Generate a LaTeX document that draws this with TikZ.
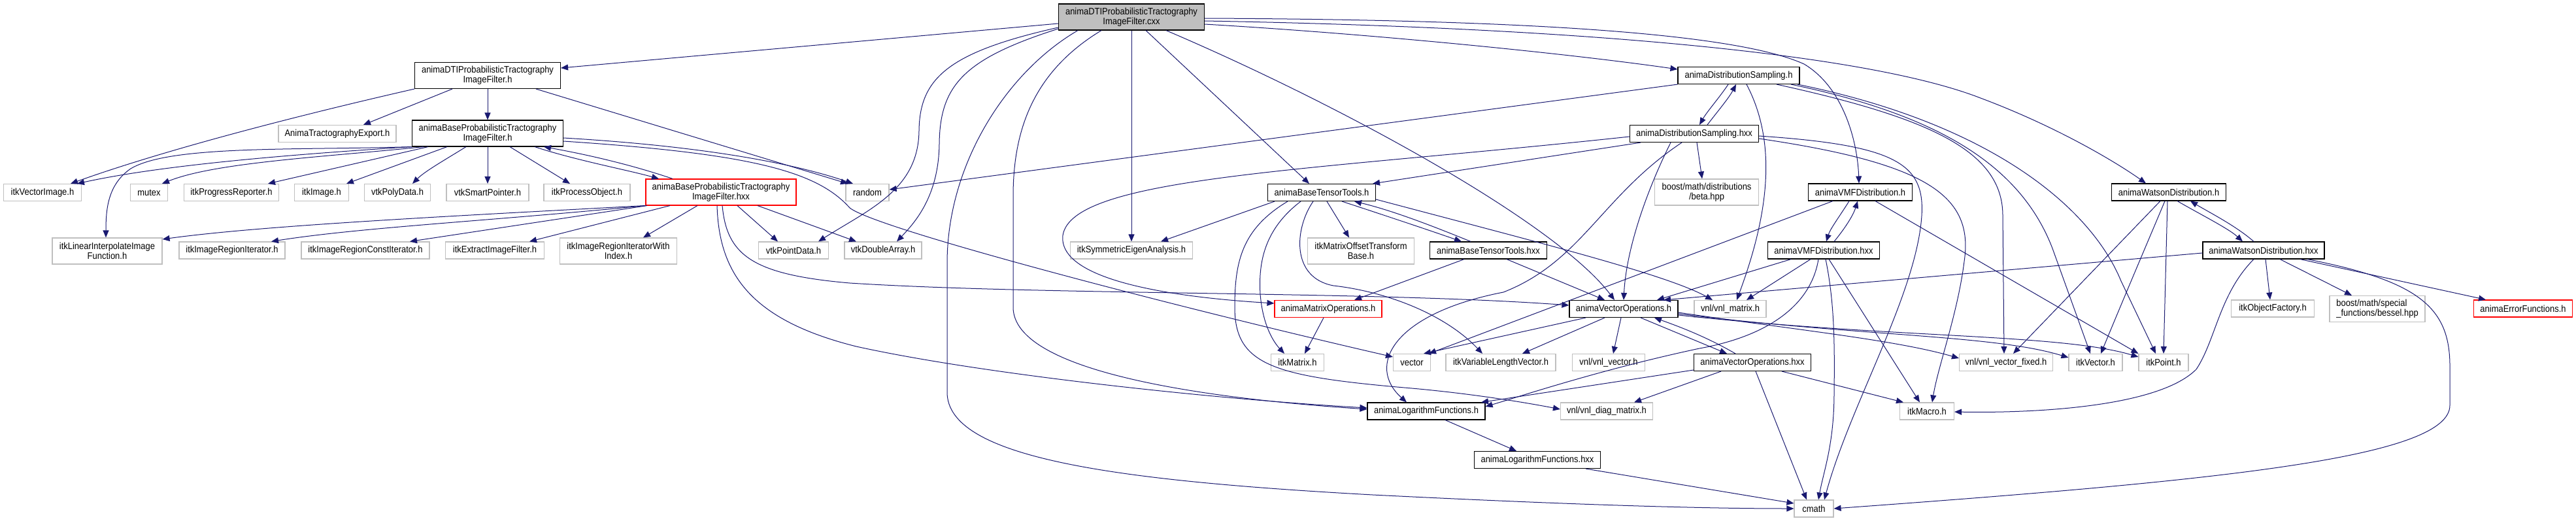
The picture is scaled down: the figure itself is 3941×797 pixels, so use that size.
\documentclass[tikz,border=0pt]{standalone}
\usepackage{fontspec}
\setmainfont{Liberation Sans}[FakeStretch=0.9]
\usetikzlibrary{arrows.meta}
\definecolor{edgec}{HTML}{191970}
\definecolor{greyb}{HTML}{BFBFBF}
\begin{document}
\begin{tikzpicture}[x=1pt,y=-1pt,
  box/.style={rectangle, draw=black, line width=1.1pt, fill=white, inner sep=0pt, align=center,
    font=\fontsize{14.4}{15}\selectfont, minimum height=26pt},
  ext/.style={box, draw=greyb},
  trunc/.style={box, draw=red},
  rootbox/.style={box, fill=greyb},
  two/.style={minimum height=40pt},
  e/.style={draw=edgec, line width=1pt, -{Triangle[length=11pt,width=9pt]}},
]
\useasboundingbox (0,0) rectangle (3941,797);
% nodes
\node[rootbox, two, minimum width=223pt] (root) at (1731,26) {animaDTIProbabilisticTractography\\ImageFilter.cxx};
\node[box, two, minimum width=223pt] (dtih) at (746,115.5) {animaDTIProbabilisticTractography\\ImageFilter.h};
\node[ext, minimum width=180pt] (export) at (516,204.5) {AnimaTractographyExport.h};
\node[box, two, minimum width=231pt] (bpth) at (746,204) {animaBaseProbabilisticTractography\\ImageFilter.h};
\node[ext, minimum width=119pt] (vecimg) at (65,294.5) {itkVectorImage.h};
\node[ext, minimum width=57pt] (mutex) at (228,294.5) {mutex};
\node[ext, minimum width=145pt] (progrep) at (354,294.5) {itkProgressReporter.h};
\node[ext, minimum width=83pt] (itkimage) at (492,294.5) {itkImage.h};
\node[ext, minimum width=101pt] (polydata) at (608,294.5) {vtkPolyData.h};
\node[ext, minimum width=126pt] (smartptr) at (746,294.5) {vtkSmartPointer.h};
\node[ext, minimum width=132pt] (procobj) at (898,294.5) {itkProcessObject.h};
\node[trunc, two, minimum width=230pt] (bpthxx) at (1103,294) {animaBaseProbabilisticTractography\\ImageFilter.hxx};
\node[ext, minimum width=66pt] (random) at (1327,294.5) {random};
\node[ext, two, minimum width=168pt] (linint) at (164,384) {itkLinearInterpolateImage\\Function.h};
\node[ext, minimum width=162pt] (regit) at (355,383) {itkImageRegionIterator.h};
\node[ext, minimum width=196pt] (regcit) at (559,383) {itkImageRegionConstIterator.h};
\node[ext, minimum width=151pt] (extract) at (757,383) {itkExtractImageFilter.h};
\node[ext, two, minimum width=179pt] (regitidx) at (946,384) {itkImageRegionIteratorWith\\Index.h};
\node[ext, minimum width=107pt] (pointdata) at (1214,383) {vtkPointData.h};
\node[ext, minimum width=118pt] (dblarr) at (1351,383) {vtkDoubleArray.h};
\node[ext, minimum width=187pt] (eigen) at (1731,383) {itkSymmetricEigenAnalysis.h};
\node[box, minimum width=186pt] (dsh) at (2660,115.5) {animaDistributionSampling.h};
\node[box, minimum width=197pt] (dshxx) at (2592,204.5) {animaDistributionSampling.hxx};
\node[ext, two, minimum width=159pt] (beta) at (2611,294) {boost/math/distributions\\/beta.hpp};
\node[box, minimum width=165pt] (btth) at (2022,294.5) {animaBaseTensorTools.h};
\node[ext, two, minimum width=163pt] (mot) at (2082,384) {itkMatrixOffsetTransform\\Base.h};
\node[box, minimum width=179pt] (btthxx) at (2277,383) {animaBaseTensorTools.hxx};
\node[box, minimum width=159pt] (vmfh) at (2846,294) {animaVMFDistribution.h};
\node[box, minimum width=171pt] (vmfhxx) at (2790,383) {animaVMFDistribution.hxx};
\node[box, minimum width=175pt] (wh) at (3318,294) {animaWatsonDistribution.h};
\node[box, minimum width=186pt] (whxx) at (3463,383) {animaWatsonDistribution.hxx};
\node[trunc, minimum width=164pt] (matops) at (2032,472.5) {animaMatrixOperations.h};
\node[box, minimum width=166pt] (vecops) at (2484,472.5) {animaVectorOperations.h};
\node[ext, minimum width=110pt] (vnlmat) at (2647,472.5) {vnl/vnl\_matrix.h};
\node[ext, minimum width=81pt] (itkmatrix) at (1985,554.5) {itkMatrix.h};
\node[ext, minimum width=57pt] (vector) at (2160,554.5) {vector};
\node[ext, minimum width=168pt] (varlen) at (2296,554.5) {itkVariableLengthVector.h};
\node[ext, minimum width=111pt] (vnlvec) at (2461,554.5) {vnl/vnl\_vector.h};
\node[box, minimum width=179pt] (vecopsxx) at (2681,554.5) {animaVectorOperations.hxx};
\node[ext, minimum width=143pt] (vnlvfix) at (3069,554.5) {vnl/vnl\_vector\_fixed.h};
\node[ext, minimum width=82pt] (itkvector) at (3206,554.5) {itkVector.h};
\node[ext, minimum width=76pt] (itkpoint) at (3310,554.5) {itkPoint.h};
\node[box, minimum width=180pt] (logh) at (2182,629) {animaLogarithmFunctions.h};
\node[ext, minimum width=141pt] (diag) at (2458,629) {vnl/vnl\_diag\_matrix.h};
\node[ext, minimum width=83pt] (macro) at (2948,629) {itkMacro.h};
\node[box, minimum width=193pt] (loghxx) at (2352,703.5) {animaLogarithmFunctions.hxx};
\node[ext, minimum width=60pt] (cmath) at (2775,778) {cmath};
\node[ext, minimum width=127pt] (objfac) at (3477,472) {itkObjectFactory.h};
\node[ext, two, minimum width=146pt, align=left] (bessel) at (3637,472.5) {boost/math/special\\\_functions/bessel.hpp};
\node[trunc, minimum width=151pt] (errfn) at (3860,472) {animaErrorFunctions.h};

% root edges
\draw[e] (root.west |- 0,36) -- (dtih.east |- 0,104);
\draw[e] (root.east |- 0,37) .. controls (2100,52) and (2400,82) .. (dsh.west |- 0,106);
\draw[e] (root.east |- 0,28) .. controls (2300,30) and (2650,48) .. (2760,98) .. controls (2822,135) and (2842,220) .. (vmfh.north -| 2844,0);
\draw[e] (root.east |- 0,32) .. controls (2400,42) and (2850,80) .. (3030,150) .. controls (3150,195) and (3240,250) .. (wh.north -| 3283,0);
\draw[e] (root.west |- 0,42) .. controls (1450,80) and (1407,120) .. (1406,200) .. controls (1405,290) and (1330,320) .. (pointdata.north -| 1252,0);
\draw[e] (root.west |- 0,44) .. controls (1475,90) and (1438,130) .. (1437,220) .. controls (1436,300) and (1400,340) .. (dblarr.north -| 1372,0);
\draw[e] (root.south -| 1649,0) .. controls (1540,110) and (1450,250) .. (1449,400) -- (1449,600) .. controls (1449,700) and (1700,735) .. (2100,757) .. controls (2400,772) and (2600,778) .. (cmath.west |- 0,778);
\draw[e] (root.south -| 1685,0) .. controls (1580,110) and (1550,200) .. (1550,300) -- (1550,470) .. controls (1550,570) and (1850,610) .. (logh.west |- 0,626);
\draw[e] (root.south -| 1731,0) -- (eigen.north -| 1731,0);
\draw[e] (root.south -| 1753,0) -- (btth.north -| 2003,0);
\draw[e] (root.south -| 1784,0) .. controls (2050,160) and (2380,340) .. (vecops.north -| 2470,0);

% DTI.h edges
\draw[e] (dtih.south -| 692,0) -- (export.north -| 556,0);
\draw[e] (dtih.south west) .. controls (450,178) and (250,230) .. (vecimg.north -| 108,0);
\draw[e] (dtih.south) -- (bpth.north);
\draw[e] (dtih.south -| 820,0) -- (random.north -| 1297,0);

% BPT.h edges
\draw[e] (bpth.south west) .. controls (450,236) and (250,252) .. (vecimg.north -| 118,0);
\draw[e] (bpth.south west) .. controls (450,230) and (260,222) .. (200,258) .. controls (165,282) and (162,320) .. (linint.north -| 162,0);
\draw[e] (bpth.south -| 648,0) .. controls (500,240) and (330,248) .. (mutex.north -| 248,0);
\draw[e] (bpth.south -| 655,0) -- (progrep.north -| 410,0);
\draw[e] (bpth.south -| 684,0) -- (itkimage.north -| 530,0);
\draw[e] (bpth.south -| 713,0) .. controls (680,245) and (650,262) .. (polydata.north -| 631,0);
\draw[e] (bpth.south) -- (smartptr.north);
\draw[e] (bpth.south -| 780,0) -- (procobj.north -| 872,0);
\draw[e] (bpth.south -| 818,0) .. controls (880,245) and (960,260) .. (bpthxx.north -| 1008,0);
\draw[e] (bpthxx.north -| 1029,0) .. controls (960,250) and (890,235) .. (bpth.south -| 832,0);
\draw[e] (bpth.east |- 0,211) .. controls (1050,222) and (1200,245) .. (random.north -| 1305,0);
\draw[e] (bpth.east |- 0,216) .. controls (1150,235) and (1250,262) .. (1300,318) .. controls (1340,350) and (1800,470) .. (vector.west |- 0,546);

% BPT.hxx edges
\draw[e] (bpthxx.south west) .. controls (700,330) and (400,345) .. (linint.east |- 0,366);
\draw[e] (bpthxx.south west) .. controls (750,338) and (550,348) .. (regit.north -| 415,0);
\draw[e] (bpthxx.south -| 990,0) -- (regcit.north -| 627,0);
\draw[e] (bpthxx.south -| 1025,0) -- (extract.north -| 810,0);
\draw[e] (bpthxx.south -| 1067,0) -- (regitidx.north -| 984,0);
\draw[e] (bpthxx.south -| 1128,0) -- (pointdata.north -| 1190,0);
\draw[e] (bpthxx.south -| 1159,0) -- (dblarr.north -| 1310,0);
\draw[e] (bpthxx.south -| 1105,0) .. controls (1112,390) and (1150,420) .. (1300,433) .. controls (1600,452) and (2100,445) .. (vecops.west |- 0,467);
\draw[e] (bpthxx.south -| 1097,0) .. controls (1100,420) and (1150,490) .. (1310,530) .. controls (1500,572) and (1850,610) .. (logh.west |- 0,624);

% DistributionSampling.h
\draw[e] (dsh.south -| 2644,0) .. controls (2630,150) and (2612,170) .. (dshxx.north -| 2600,0);
\draw[e] (dshxx.north -| 2612,0) .. controls (2628,170) and (2645,150) .. (dsh.south -| 2656,0);
\draw[e] (dsh.south west) -- (random.east |- 0,290);
\draw[e] (dsh.south -| 2672,0) .. controls (2720,220) and (2705,330) .. (vnlmat.north -| 2657,0);
\draw[e] (dsh.south -| 2718,0) .. controls (2950,180) and (3064,230) .. (3064,330) -- (vnlvfix.north -| 3066,0);
\draw[e] (dsh.south -| 2740,0) .. controls (2960,175) and (3090,250) .. (3140,380) -- (itkvector.north -| 3198,0);
\draw[e] (dsh.south -| 2750,0) .. controls (3050,190) and (3200,320) .. (3245,430) -- (itkpoint.north -| 3298,0);

% DistributionSampling.hxx
\draw[e] (dshxx.south -| 2510,0) -- (btth.north -| 2100,0);
\draw[e] (dshxx.west |- 0,209) .. controls (2000,262) and (1640,270) .. (1626,360) .. controls (1618,430) and (1800,455) .. (matops.west |- 0,464);
\draw[e] (dshxx.south -| 2596,0) -- (beta.north -| 2604,0);
\draw[e] (dshxx.south -| 2556,0) .. controls (2520,290) and (2488,380) .. (vecops.north -| 2484,0);
\draw[e] (dshxx.south -| 2573,0) .. controls (2450,300) and (2420,400) .. (2300,447) .. controls (2130,480) and (2090,560) .. (logh.north -| 2152,0);
\draw[e] (dshxx.east |- 0,208) .. controls (2900,222) and (2945,250) .. (2940,330) .. controls (2932,450) and (2830,620) .. (cmath.north -| 2791,0);
\draw[e] (dshxx.east |- 0,212) .. controls (2950,250) and (3020,300) .. (3005,400) .. controls (2995,480) and (2965,560) .. (macro.north -| 2956,0);

% BaseTensorTools.h
\draw[e] (btth.south -| 1950,0) -- (eigen.north -| 1776,0);
\draw[e] (btth.south -| 2030,0) -- (mot.north -| 2064,0);
\draw[e] (btth.south -| 2053,0) .. controls (2120,330) and (2180,350) .. (btthxx.north -| 2236,0);
\draw[e] (btthxx.north -| 2250,0) .. controls (2190,345) and (2130,322) .. (btth.south -| 2072,0);
\draw[e] (btth.east |- 0,305) .. controls (2350,370) and (2550,420) .. (vnlmat.north -| 2620,0);
\draw[e] (btth.south -| 2009,0) .. controls (1980,350) and (1975,425) .. (2040,437) .. controls (2120,446) and (2210,480) .. (varlen.north -| 2268,0);
\draw[e] (btth.south -| 1990,0) .. controls (1935,350) and (1925,400) .. (1928,450) .. controls (1932,500) and (1950,525) .. (itkmatrix.north -| 1965,0);
\draw[e] (btth.south -| 1970,0) .. controls (1900,350) and (1889,400) .. (1889,470) .. controls (1889,560) and (1950,576) .. (2160,594) .. controls (2260,603) and (2340,617) .. (diag.west |- 0,626);

% BaseTensorTools.hxx
\draw[e] (btthxx.south -| 2240,0) -- (matops.north -| 2072,0);
\draw[e] (btthxx.south -| 2305,0) -- (vecops.north -| 2455,0);

% VMF.h
\draw[e] (vmfh.south -| 2829,0) .. controls (2815,330) and (2800,350) .. (vmfhxx.north -| 2794,0);
\draw[e] (vmfhxx.north -| 2806,0) .. controls (2822,350) and (2835,330) .. (vmfh.south -| 2842,0);
\draw[e] (vmfh.south -| 2804,0) -- (vector.north -| 2186,0);
\draw[e] (vmfh.south -| 2869,0) -- (itkpoint.north west);

% VMF.hxx
\draw[e] (vmfhxx.south -| 2740,0) -- (vecops.north -| 2535,0);
\draw[e] (vmfhxx.south -| 2770,0) -- (vnlmat.north -| 2672,0);
\draw[e] (vmfhxx.south -| 2782,0) .. controls (2770,470) and (2700,515) .. (2600,533) .. controls (2450,565) and (2330,605) .. (logh.east |- 0,622);
\draw[e] (vmfhxx.south -| 2793,0) .. controls (2806,460) and (2807,520) .. (2806,600) .. controls (2806,680) and (2790,720) .. (cmath.north -| 2782,0);
\draw[e] (vmfhxx.south -| 2798,0) -- (macro.north -| 2937,0);

% Watson.h
\draw[e] (wh.south -| 3331,0) .. controls (3370,330) and (3410,350) .. (whxx.north -| 3431,0);
\draw[e] (whxx.north -| 3448,0) .. controls (3420,345) and (3380,325) .. (wh.south -| 3351,0);
\draw[e] (wh.south -| 3305,0) -- (vnlvfix.north -| 3080,0);
\draw[e] (wh.south -| 3312,0) .. controls (3290,360) and (3260,430) .. (itkvector.north -| 3214,0);
\draw[e] (wh.south -| 3316,0) -- (itkpoint.north -| 3310,0);

% Watson.hxx
\draw[e] (whxx.west |- 0,387) -- (vecops.north -| 2545,0);
\draw[e] (whxx.south -| 3466,0) -- (objfac.north -| 3473,0);
\draw[e] (whxx.south -| 3488,0) -- (bessel.north -| 3598,0);
\draw[e] (whxx.south -| 3519,0) -- (errfn.north -| 3803,0);
\draw[e] (whxx.south -| 3448,0) .. controls (3395,450) and (3390,520) .. (3360,565) .. controls (3300,625) and (3100,632) .. (macro.east |- 0,630);
\draw[e] (whxx.south -| 3530,0) .. controls (3700,430) and (3748,470) .. (3748,560) -- (3748,620) .. controls (3748,700) and (3400,735) .. (cmath.east |- 0,778);

% VectorOperations.h
\draw[e] (vecops.south -| 2426,0) -- (vector.north -| 2178,0);
\draw[e] (vecops.south -| 2455,0) -- (varlen.north -| 2329,0);
\draw[e] (vecops.south -| 2480,0) -- (vnlvec.north -| 2468,0);
\draw[e] (vecops.south -| 2510,0) -- (vecopsxx.north -| 2642,0);
\draw[e] (vecopsxx.north -| 2655,0) .. controls (2610,515) and (2570,500) .. (vecops.south -| 2531,0);
\draw[e] (vecops.east |- 0,478) .. controls (2750,505) and (2900,520) .. (vnlvfix.west |- 0,548);
\draw[e] (vecops.east |- 0,480) .. controls (2850,515) and (3050,512) .. (itkvector.west |- 0,547);
\draw[e] (vecops.east |- 0,482) .. controls (2900,518) and (3150,510) .. (itkpoint.west |- 0,546);

% VectorOperations.hxx
\draw[e] (vecopsxx.west |- 0,566) -- (logh.north -| 2266,0);
\draw[e] (vecopsxx.south -| 2633,0) -- (diag.north -| 2500,0);
\draw[e] (vecopsxx.south -| 2726,0) -- (macro.north -| 2912,0);
\draw[e] (vecopsxx.south -| 2686,0) -- (cmath.north -| 2764,0);

% others
\draw[e] (matops.south -| 2025,0) -- (itkmatrix.north -| 1996,0);
\draw[e] (logh.south -| 2211,0) -- (loghxx.north -| 2320,0);
\draw[e] (loghxx.south -| 2426,0) -- (cmath.west |- 0,770);
\end{tikzpicture}
\end{document}
